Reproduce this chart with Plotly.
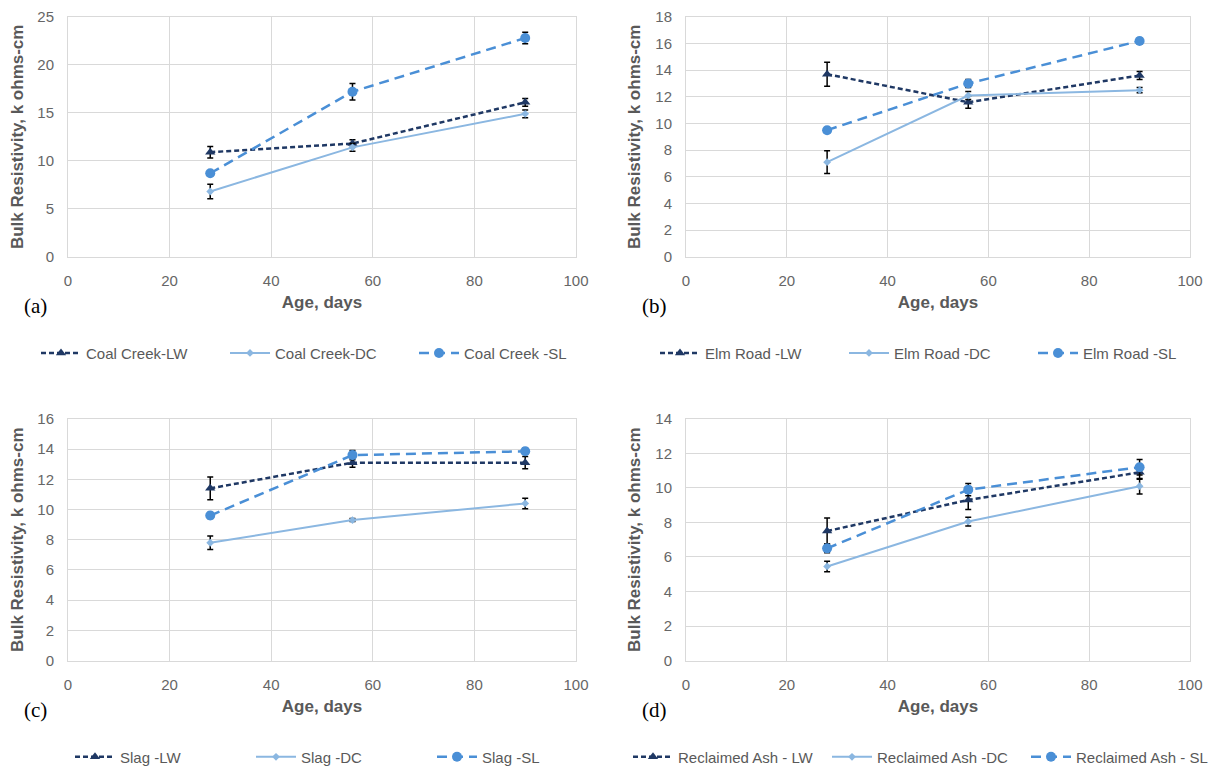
import plotly.graph_objects as go

ages = [28, 56, 90]

coal_lw = [10.9, 11.8, 16.1]
coal_lw_err = [0.6, 0.4, 0.4]
coal_dc = [6.8, 11.4, 14.9]
coal_dc_err = [0.75, 0.4, 0.4]
coal_sl = [8.7, 17.2, 22.8]
coal_sl_err = [0.2, 0.85, 0.6]

elm_lw = [13.7, 11.6, 13.6]
elm_lw_err = [0.9, 0.45, 0.3]
elm_dc = [7.1, 12.1, 12.5]
elm_dc_err = [0.85, 0.3, 0.2]
elm_sl = [9.5, 13.0, 16.2]
elm_sl_err = [0.2, 0.3, 0.2]

slag_lw = [11.4, 13.1, 13.1]
slag_lw_err = [0.75, 0.3, 0.4]
slag_dc = [7.8, 9.3, 10.4]
slag_dc_err = [0.45, 0.1, 0.35]
slag_sl = [9.6, 13.6, 13.85]
slag_sl_err = [0.2, 0.3, 0.2]

rec_lw = [7.5, 9.3, 10.9]
rec_lw_err = [0.75, 0.55, 0.4]
rec_dc = [5.45, 8.05, 10.1]
rec_dc_err = [0.3, 0.25, 0.45]
rec_sl = [6.5, 9.9, 11.2]
rec_sl_err = [0.25, 0.35, 0.45]

panels = [
    dict(label="(a)", names=["Coal Creek-LW", "Coal Creek-DC", "Coal Creek -SL"],
         ys=[coal_lw, coal_dc, coal_sl], errs=[coal_lw_err, coal_dc_err, coal_sl_err],
         ymax=25, dtick=5),
    dict(label="(b)", names=["Elm Road -LW", "Elm Road -DC", "Elm Road -SL"],
         ys=[elm_lw, elm_dc, elm_sl], errs=[elm_lw_err, elm_dc_err, elm_sl_err],
         ymax=18, dtick=2),
    dict(label="(c)", names=["Slag -LW", "Slag -DC", "Slag -SL"],
         ys=[slag_lw, slag_dc, slag_sl], errs=[slag_lw_err, slag_dc_err, slag_sl_err],
         ymax=16, dtick=2),
    dict(label="(d)", names=["Reclaimed Ash - LW", "Reclaimed Ash -DC", "Reclaimed Ash - SL"],
         ys=[rec_lw, rec_dc, rec_sl], errs=[rec_lw_err, rec_dc_err, rec_sl_err],
         ymax=14, dtick=2),
]

W, H = 1220, 766
# plot-area pixel boxes (left, right, top, bottom)
boxes = [(60, 568, 9, 250), (678, 1182, 9, 250), (60, 568, 413, 656), (678, 1182, 413, 656)]
# legend (x px, y px, entry width px)
legend_pos = [(28, 347, 134), (647, 347, 134), (62, 753, 126), (620, 753, 144)]

colors = ["#1F3864", "#8BB7E1", "#4A8FD6"]
dashes = ["5px,3px", "solid", "10px,6px"]
symbols = ["triangle-up", "diamond", "circle"]
msizes = [9, 6, 10]
lwidths = [2.5, 2, 2.5]

gray = "#595959"
fam = "Liberation Sans, Arial"
tickfont = dict(family=fam, size=15, color="#666666")

fig = go.Figure()
layout = dict(width=W, height=H, margin=dict(l=0, r=0, t=0, b=0),
              paper_bgcolor="white", plot_bgcolor="white", annotations=[])

for i, p in enumerate(panels):
    ax = "" if i == 0 else str(i + 1)
    leg = "legend" if i == 0 else f"legend{i + 1}"
    for j in range(3):
        fig.add_trace(go.Scatter(
            x=ages, y=p["ys"][j], name=p["names"][j],
            mode="lines+markers",
            line=dict(color=colors[j], width=lwidths[j], dash=dashes[j]),
            marker=dict(symbol=symbols[j], size=msizes[j], color=colors[j]),
            error_y=dict(type="data", array=p["errs"][j], color="black", thickness=1.5, width=3),
            xaxis="x" + ax, yaxis="y" + ax, legend=leg,
        ))
    l, r, t, b = boxes[i]
    layout["xaxis" + ax] = dict(
        domain=[l / W, r / W], anchor="y" + ax, range=[0, 100], dtick=20,
        showgrid=True, gridcolor="#D9D9D9", gridwidth=1, zeroline=False,
        showline=True, linecolor="#D9D9D9", linewidth=1, mirror=True,
        ticks="", tickfont=tickfont, ticklabelstandoff=10, automargin=False,
        title=dict(text="<b>Age, days</b>", font=dict(family=fam, size=17, color=gray), standoff=8),
    )
    layout["yaxis" + ax] = dict(
        domain=[1 - b / H, 1 - t / H], anchor="x" + ax, range=[0, p["ymax"]], dtick=p["dtick"],
        showgrid=True, gridcolor="#D9D9D9", gridwidth=1, zeroline=False,
        showline=True, linecolor="#D9D9D9", linewidth=1, mirror=True,
        ticks="", tickfont=tickfont, ticklabelstandoff=10, automargin=False,
        title=dict(text="<b>Bulk Resistivity, k ohms-cm</b>", font=dict(family=fam, size=17, color=gray), standoff=10),
    )
    lx, ly, ew = legend_pos[i]
    layout[leg] = dict(
        orientation="h", x=lx / W, y=1 - ly / H, xanchor="left", yanchor="middle",
        font=dict(family=fam, size=15, color=gray), itemwidth=40,
        entrywidth=ew, entrywidthmode="pixels", bgcolor="rgba(0,0,0,0)",
    )
    layout["annotations"].append(dict(
        text=p["label"], x=(l - 46) / W, y=1 - (b + 50) / H, xref="paper", yref="paper",
        xanchor="left", yanchor="middle", showarrow=False,
        font=dict(family="Liberation Serif, Times New Roman", size=21, color="black"),
    ))

fig.update_layout(**layout)
fig.write_html("out.html")
